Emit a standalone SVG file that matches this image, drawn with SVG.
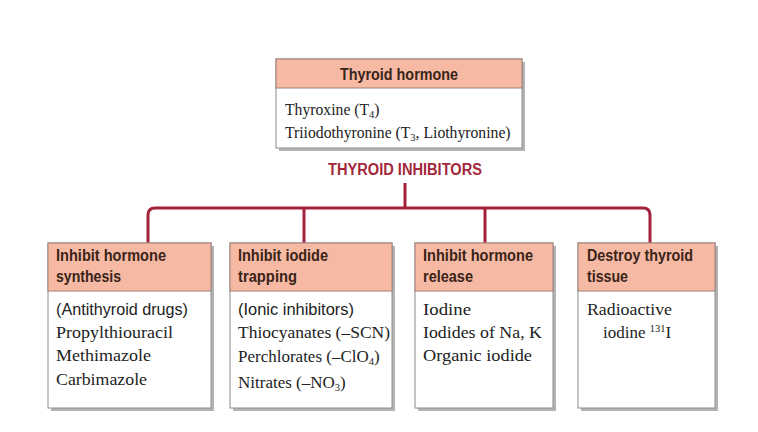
<svg xmlns="http://www.w3.org/2000/svg" width="758" height="432" viewBox="0 0 758 432">
<style>
.shadow{fill:#b4b4b4}
.box{fill:#ffffff;stroke:#8c8c8c;stroke-width:1}
.head{fill:#f6b9a4;stroke:#a08078;stroke-width:1}
.ht{font-family:"Liberation Sans",Arial,sans-serif;font-weight:bold;font-size:16.5px;fill:#3a2418}
.st{font-family:"Liberation Sans",Arial,sans-serif;font-size:16px;fill:#222}
.sf{font-family:"Liberation Serif","Times New Roman",serif;font-size:17px;fill:#222}
.sft{font-family:"Liberation Serif","Times New Roman",serif;font-size:15.7px;fill:#222}
.sub{font-size:10.5px}
.conn{fill:none;stroke:#a3213a;stroke-width:3}
.title{font-family:"Liberation Sans",Arial,sans-serif;font-weight:bold;font-size:16px;fill:#a3283c}
</style>
<rect width="758" height="432" fill="#ffffff"/>

<g id="connectors">
<path class="conn" d="M405,183 V208"/>
<path class="conn" d="M148,243 V215 Q148,208 155,208 H643 Q650,208 650,215 V243"/>
<path class="conn" d="M304,208 V243"/>
<path class="conn" d="M485,208 V243"/>
</g>

<g id="thyroid-hormone">
<rect class="shadow" x="279" y="62" width="246" height="89"/>
<rect class="box" x="276" y="59" width="246" height="89"/>
<rect class="head" x="276" y="59" width="246" height="29"/>
<text class="ht" x="340" y="80" textLength="118" lengthAdjust="spacingAndGlyphs">Thyroid hormone</text>
<text class="sft" x="285" y="115">Thyroxine (T<tspan class="sub" dy="3">4</tspan><tspan dy="-3">)</tspan></text>
<text class="sft" x="285" y="138">Triiodothyronine (T<tspan class="sub" dy="3">3</tspan><tspan dy="-3">, Liothyronine)</tspan></text>
</g>

<g id="thyroid-inhibitors">
<text class="title" x="328" y="175" textLength="154" lengthAdjust="spacingAndGlyphs">THYROID INHIBITORS</text>
</g>

<g id="inhibit-synthesis">
<rect class="shadow" x="51" y="246" width="163" height="165"/>
<rect class="box" x="48" y="243" width="163" height="165"/>
<rect class="head" x="48" y="243" width="163" height="48"/>
<text class="ht" x="56" y="261" textLength="110" lengthAdjust="spacingAndGlyphs">Inhibit hormone</text>
<text class="ht" x="56" y="282" textLength="65" lengthAdjust="spacingAndGlyphs">synthesis</text>
<text class="st" x="56" y="315" textLength="132" lengthAdjust="spacingAndGlyphs">(Antithyroid drugs)</text>
<text class="sf" x="56" y="338" textLength="117" lengthAdjust="spacingAndGlyphs">Propylthiouracil</text>
<text class="sf" x="56" y="361" textLength="95" lengthAdjust="spacingAndGlyphs">Methimazole</text>
<text class="sf" x="56" y="385" textLength="91" lengthAdjust="spacingAndGlyphs">Carbimazole</text>
</g>

<g id="inhibit-trapping">
<rect class="shadow" x="233" y="246" width="162" height="165"/>
<rect class="box" x="230" y="243" width="162" height="165"/>
<rect class="head" x="230" y="243" width="162" height="48"/>
<text class="ht" x="238" y="261" textLength="90" lengthAdjust="spacingAndGlyphs">Inhibit iodide</text>
<text class="ht" x="238" y="282" textLength="59" lengthAdjust="spacingAndGlyphs">trapping</text>
<text class="st" x="238" y="315" textLength="116" lengthAdjust="spacingAndGlyphs">(Ionic inhibitors)</text>
<text class="sf" x="238" y="338" textLength="152" lengthAdjust="spacingAndGlyphs">Thiocyanates (–SCN)</text>
<text class="sf" x="238" y="362">Perchlorates (–ClO<tspan class="sub" dy="3">4</tspan><tspan dy="-3">)</tspan></text>
<text class="sf" x="238" y="388">Nitrates (–NO<tspan class="sub" dy="3">3</tspan><tspan dy="-3">)</tspan></text>
</g>

<g id="inhibit-release">
<rect class="shadow" x="418" y="246" width="138" height="165"/>
<rect class="box" x="415" y="243" width="138" height="165"/>
<rect class="head" x="415" y="243" width="138" height="48"/>
<text class="ht" x="423" y="261" textLength="110" lengthAdjust="spacingAndGlyphs">Inhibit hormone</text>
<text class="ht" x="423" y="282" textLength="50" lengthAdjust="spacingAndGlyphs">release</text>
<text class="sf" x="423" y="315" textLength="48" lengthAdjust="spacingAndGlyphs">Iodine</text>
<text class="sf" x="423" y="338" textLength="119" lengthAdjust="spacingAndGlyphs">Iodides of Na, K</text>
<text class="sf" x="423" y="361" textLength="109" lengthAdjust="spacingAndGlyphs">Organic iodide</text>
</g>

<g id="destroy-tissue">
<rect class="shadow" x="581" y="246" width="137" height="165"/>
<rect class="box" x="578" y="243" width="137" height="165"/>
<rect class="head" x="578" y="243" width="137" height="48"/>
<text class="ht" x="587" y="261" textLength="106" lengthAdjust="spacingAndGlyphs">Destroy thyroid</text>
<text class="ht" x="587" y="282" textLength="41" lengthAdjust="spacingAndGlyphs">tissue</text>
<text class="sf" x="587" y="315" textLength="85" lengthAdjust="spacingAndGlyphs">Radioactive</text>
<text class="sf" x="603" y="338">iodine <tspan class="sub" dy="-6">131</tspan><tspan dy="6">I</tspan></text>
</g>
</svg>
